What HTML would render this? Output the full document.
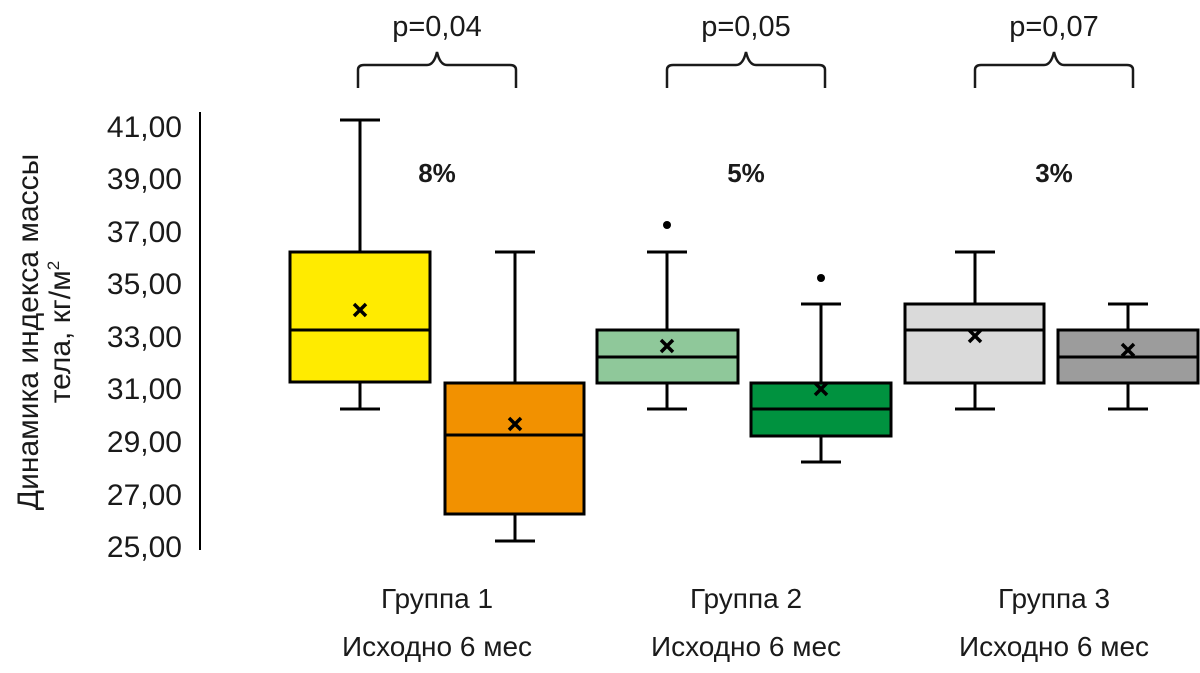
<!DOCTYPE html>
<html><head><meta charset="utf-8"><style>body{margin:0;background:#fff}</style></head><body>
<svg width="1200" height="668" xmlns="http://www.w3.org/2000/svg" font-family="Liberation Sans, DejaVu Sans, sans-serif">
<rect width="1200" height="668" fill="#fff"/>
<line x1="200" y1="112" x2="200" y2="550" stroke="#000" stroke-width="2"/>
<g font-size="30" text-anchor="end" fill="#1a1a1a">
<text x="182" y="137">41,00</text><text x="182" y="189">39,00</text><text x="182" y="242">37,00</text>
<text x="182" y="294">35,00</text><text x="182" y="347">33,00</text><text x="182" y="399">31,00</text>
<text x="182" y="452">29,00</text><text x="182" y="505">27,00</text><text x="182" y="557">25,00</text>
</g>
<g font-size="30" text-anchor="middle" fill="#1a1a1a">
<text transform="translate(38,332) rotate(-90)">Динамика индекса массы</text>
<text transform="translate(70,332) rotate(-90)">тела, кг/м<tspan font-size="17" dy="-11">2</tspan></text>
</g>
<g stroke="#000" stroke-width="3">
<line x1="360" y1="120" x2="360" y2="409"/><line x1="340" y1="120" x2="380" y2="120"/><line x1="340" y1="409" x2="380" y2="409"/>
<rect x="290" y="252" width="140" height="130" fill="#ffeb00"/><line x1="290" y1="330" x2="430" y2="330"/>
<line x1="515" y1="252" x2="515" y2="541"/><line x1="495" y1="252" x2="535" y2="252"/><line x1="495" y1="541" x2="535" y2="541"/>
<rect x="445" y="383" width="139" height="131" fill="#f29100"/><line x1="445" y1="435" x2="584" y2="435"/>
<line x1="667" y1="252" x2="667" y2="409"/><line x1="647" y1="252" x2="687" y2="252"/><line x1="647" y1="409" x2="687" y2="409"/>
<rect x="597" y="330" width="141" height="53" fill="#8fc89a"/><line x1="597" y1="357" x2="738" y2="357"/>
<line x1="821" y1="304" x2="821" y2="462"/><line x1="801" y1="304" x2="841" y2="304"/><line x1="801" y1="462" x2="841" y2="462"/>
<rect x="751" y="383" width="140" height="53" fill="#00923f"/><line x1="751" y1="409" x2="891" y2="409"/>
<line x1="975" y1="252" x2="975" y2="409"/><line x1="955" y1="252" x2="995" y2="252"/><line x1="955" y1="409" x2="995" y2="409"/>
<rect x="905" y="304" width="139" height="79" fill="#dadada"/><line x1="905" y1="330" x2="1044" y2="330"/>
<line x1="1128" y1="304" x2="1128" y2="409"/><line x1="1108" y1="304" x2="1148" y2="304"/><line x1="1108" y1="409" x2="1148" y2="409"/>
<rect x="1058" y="330" width="140" height="53" fill="#9c9c9c"/><line x1="1058" y1="357" x2="1198" y2="357"/>
</g>
<g stroke="#000" stroke-width="3.5">
<path d="M354,304 l12,12 M366,304 l-12,12"/>
<path d="M509,418 l12,12 M521,418 l-12,12"/>
<path d="M661,340 l12,12 M673,340 l-12,12"/>
<path d="M815,383 l12,12 M827,383 l-12,12"/>
<path d="M969,330 l12,12 M981,330 l-12,12"/>
<path d="M1122,344 l12,12 M1134,344 l-12,12"/>
</g>
<circle cx="667" cy="225" r="4" fill="#000"/><circle cx="821" cy="278" r="4" fill="#000"/>
<g fill="none" stroke="#1a1a1a" stroke-width="2.5">
<path d="M358,88 V70 Q358,65 364,65 H427 Q434,65 437,52 Q440,65 447,65 H510 Q516,65 516,70 V88"/>
<path d="M667,88 V70 Q667,65 673,65 H736 Q743,65 746,52 Q749,65 756,65 H819 Q825,65 825,70 V88"/>
<path d="M975,88 V70 Q975,65 981,65 H1044 Q1051,65 1054,52 Q1057,65 1064,65 H1127 Q1133,65 1133,70 V88"/>
</g>
<g font-size="29" text-anchor="middle" fill="#1a1a1a">
<text x="437" y="36">p=0,04</text><text x="746" y="36">p=0,05</text><text x="1054" y="36">p=0,07</text>
</g>
<g font-size="26" font-weight="bold" text-anchor="middle" fill="#1a1a1a">
<text x="437" y="182">8%</text><text x="746" y="182">5%</text><text x="1054" y="182">3%</text>
</g>
<g font-size="28" text-anchor="middle" fill="#1a1a1a">
<text x="437" y="608">Группа 1</text><text x="746" y="608">Группа 2</text><text x="1054" y="608">Группа 3</text>
<text x="437" y="656">Исходно 6 мес</text><text x="746" y="656">Исходно 6 мес</text><text x="1054" y="656">Исходно 6 мес</text>
</g>
</svg>
</body></html>
